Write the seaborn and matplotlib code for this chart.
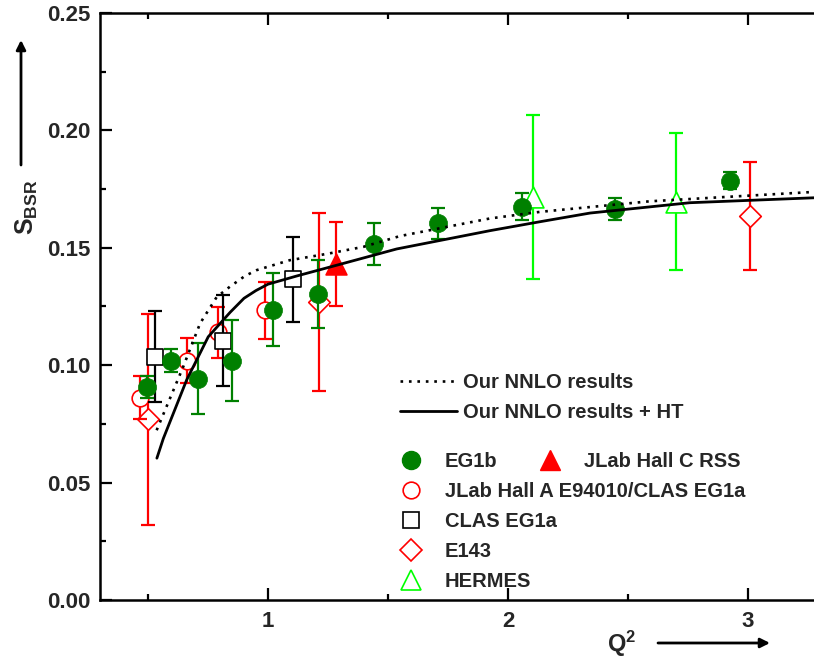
import numpy as np
import pandas as pd
import matplotlib
matplotlib.use("Agg")
import matplotlib.pyplot as plt
from matplotlib.lines import Line2D
from matplotlib.ticker import MultipleLocator, FormatStrFormatter
import seaborn as sns

# ---------------- data ----------------
eg1b_x = [0.496, 0.596, 0.710, 0.849, 1.02, 1.21, 1.442, 1.71, 2.06, 2.446, 2.925]
eg1b_y = [0.0906, 0.102, 0.0943, 0.102, 0.1236, 0.1305, 0.1516, 0.1604, 0.1675, 0.1665, 0.1786]
eg1b_err = [0.0047, 0.005, 0.015, 0.0174, 0.0156, 0.0145, 0.0089, 0.0065, 0.0057, 0.0046, 0.0035]

halla_x = [0.467, 0.661, 0.793, 0.9875]
halla_y = [0.0861, 0.102, 0.114, 0.1233]
halla_err = [0.0091, 0.0097, 0.011, 0.0121]

clas_x = [0.529, 0.814, 1.105]
clas_y = [0.1037, 0.1105, 0.1365]
clas_err = [0.0193, 0.0193, 0.018]

e143_x = [0.501, 1.2125, 3.01]
e143_y = [0.077, 0.127, 0.1637]
e143_err = [0.045, 0.038, 0.023]

rss_x = [1.282]
rss_y = [0.1432]
rss_err = [0.018]

hermes_x = [2.105, 2.70]
hermes_y = [0.1717, 0.1697]
hermes_err = [0.035, 0.029]

nnlo_x = [0.536, 0.647, 0.717, 0.786, 0.842, 0.904, 0.953, 1.09, 1.25, 1.397, 1.55, 1.925, 2.133, 2.59, 3.275]
nnlo_y = [0.0723, 0.0994, 0.1178, 0.129, 0.1335, 0.138, 0.1405, 0.1447, 0.1475, 0.1504, 0.155, 0.1625, 0.1653, 0.1698, 0.1738]

ht_x = [0.537, 0.564, 0.661, 0.751, 0.842, 0.90, 0.95, 1.0, 1.12, 1.258, 1.536, 1.925, 2.133, 2.342, 2.758, 3.275]
ht_y = [0.0604, 0.0688, 0.0937, 0.1121, 0.1225, 0.1285, 0.1318, 0.1345, 0.138, 0.1418, 0.1495, 0.1573, 0.1611, 0.1648, 0.1692, 0.1713]

labels = ["Our NNLO results", "Our NNLO results + HT", "EG1b", "JLab Hall C RSS",
          "JLab Hall A E94010/CLAS EG1a", "CLAS EG1a", "E143", "HERMES"]

# ---------------- style ----------------
sns.set_style("ticks")
FONT = "Liberation Sans"
plt.rcParams["font.family"] = [FONT, "DejaVu Sans"]
plt.rcParams["font.weight"] = "bold"
plt.rcParams["mathtext.fontset"] = "custom"
plt.rcParams["mathtext.bf"] = "Liberation Sans:bold"
plt.rcParams["mathtext.rm"] = "Liberation Sans:bold"
plt.rcParams["mathtext.it"] = "Liberation Sans:bold"

GREEN = "#008000"
RED = "#FF0000"
LIME = "#00FF00"

fig = plt.figure(figsize=(8.14, 6.6), dpi=100)
ax = fig.add_axes([100 / 814, 60 / 660, 1 - 100 / 814, (600 - 13) / 660])

ELW = 1.6
CAP = 5


def series(x, y, err, marker, ms, fc, ec, barcolor, z, mew=1.2):
    ax.errorbar(x, y, yerr=err, fmt="none", ecolor=barcolor, elinewidth=ELW,
                capsize=CAP, capthick=ELW, zorder=z)
    df = pd.DataFrame({"x": x, "y": y})
    sns.scatterplot(data=df, x="x", y="y", ax=ax, marker=marker, s=ms ** 2,
                    facecolor=fc, edgecolor=ec, linewidth=mew, zorder=z + 0.5,
                    legend=False)


series(e143_x, e143_y, e143_err, "D", 11, "white", RED, RED, 2)
series(halla_x, halla_y, halla_err, "o", 12, "white", RED, RED, 3)
series(clas_x, clas_y, clas_err, "s", 11, "white", "black", "black", 4)
series(hermes_x, hermes_y, hermes_err, "^", 15, "white", LIME, LIME, 5)
series(rss_x, rss_y, rss_err, "^", 15, RED, RED, RED, 6)
series(eg1b_x, eg1b_y, eg1b_err, "o", 13, GREEN, GREEN, GREEN, 7, mew=0.5)

DOT = (0, (1, 2.2))
sns.lineplot(x=nnlo_x, y=nnlo_y, ax=ax, color="black", lw=1.9, sort=False,
             estimator=None, zorder=10)
ax.lines[-1].set_linestyle(DOT)
sns.lineplot(x=ht_x, y=ht_y, ax=ax, color="black", lw=2.0, sort=False,
             estimator=None, zorder=10)

# ---------------- axes ----------------
ax.set_xlim(0.3, 3.275)
ax.set_ylim(0.0, 0.25)
ax.xaxis.set_major_locator(MultipleLocator(1))
ax.xaxis.set_minor_locator(MultipleLocator(0.5))
ax.yaxis.set_major_locator(MultipleLocator(0.05))
ax.yaxis.set_minor_locator(MultipleLocator(0.025))
ax.yaxis.set_major_formatter(FormatStrFormatter("%.2f"))
ax.xaxis.set_major_formatter(FormatStrFormatter("%d"))
ax.set_xlabel("")
ax.set_ylabel("")
for s in ["left", "bottom", "top"]:
    ax.spines[s].set_linewidth(1.8)
    ax.spines[s].set_color("black")
ax.spines["right"].set_visible(False)
ax.tick_params(which="both", direction="in", top=True, right=False, width=1.6,
               color="black")
ax.tick_params(which="major", length=8.5, labelsize=16)
ax.tick_params(axis="y", which="major", pad=7)
ax.tick_params(axis="x", which="major", pad=8)
ax.tick_params(which="minor", length=4.5)
for t in ax.get_xticklabels() + ax.get_yticklabels():
    t.set_fontweight("bold")

# ---------------- legends ----------------
W, H = 814.0, 660.0
FS = 14.5


def fig_xy(px, py):
    return (px / W, 1 - py / H)


line_handles = [
    Line2D([], [], color="black", lw=1.9, ls=DOT),
    Line2D([], [], color="black", lw=2.0),
]
leg1 = ax.legend(line_handles, labels[:2], loc="upper left",
                 bbox_to_anchor=fig_xy(400, 372.6), bbox_transform=fig.transFigure,
                 frameon=False, borderpad=0, borderaxespad=0, handlelength=2.83,
                 handletextpad=0.3, labelspacing=0.55,
                 prop={"family": FONT, "weight": "bold", "size": FS})
ax.add_artist(leg1)

mk = dict(ls="none")
h_eg1b = Line2D([], [], marker="o", ms=13, mfc=GREEN, mec=GREEN, **mk)
h_halla = Line2D([], [], marker="o", ms=12, mfc="white", mec=RED, mew=1.2, **mk)
h_clas = Line2D([], [], marker="s", ms=11, mfc="white", mec="black", mew=1.2, **mk)
h_e143 = Line2D([], [], marker="D", ms=11, mfc="white", mec=RED, mew=1.2, **mk)
h_herm = Line2D([], [], marker="^", ms=15, mfc="white", mec=LIME, mew=1.2, **mk)
h_rss = Line2D([], [], marker="^", ms=15, mfc=RED, mec=RED, **mk)

leg2 = ax.legend([h_eg1b, h_halla, h_clas, h_e143, h_herm],
                 [labels[2], labels[4], labels[5], labels[6], labels[7]],
                 loc="upper left", bbox_to_anchor=fig_xy(396.5, 451.7),
                 bbox_transform=fig.transFigure, frameon=False, borderpad=0,
                 borderaxespad=0, handlelength=1.44, handletextpad=0.97,
                 labelspacing=0.55, numpoints=1,
                 prop={"family": FONT, "weight": "bold", "size": FS})
ax.add_artist(leg2)

leg3 = ax.legend([h_rss], [labels[3]], loc="upper left",
                 bbox_to_anchor=fig_xy(535.5, 451.7), bbox_transform=fig.transFigure,
                 frameon=False, borderpad=0, borderaxespad=0, handlelength=1.44,
                 handletextpad=0.97, numpoints=1,
                 prop={"family": FONT, "weight": "bold", "size": FS})

# ---------------- axis titles with arrows ----------------
fig.text(27 / W, 1 - 207 / H, r"$\mathbf{S_{BSR}}$", rotation=90, ha="center",
         va="center", fontsize=18)
ax.annotate("", xy=(21, H - 40), xytext=(21, H - 165), xycoords="figure pixels",
            textcoords="figure pixels",
            arrowprops=dict(arrowstyle="-|>", lw=2, color="black", mutation_scale=14,
                            shrinkA=0, shrinkB=0))
fig.text(622 / W, 1 - 644 / H, r"$\mathbf{Q^2}$", ha="center", va="center",
         fontsize=17)
ax.annotate("", xy=(770, H - 643), xytext=(658, H - 643), xycoords="figure pixels",
            textcoords="figure pixels",
            arrowprops=dict(arrowstyle="-|>", lw=2, color="black", mutation_scale=14,
                            shrinkA=0, shrinkB=0))

fig.savefig("out.png", dpi=100)
